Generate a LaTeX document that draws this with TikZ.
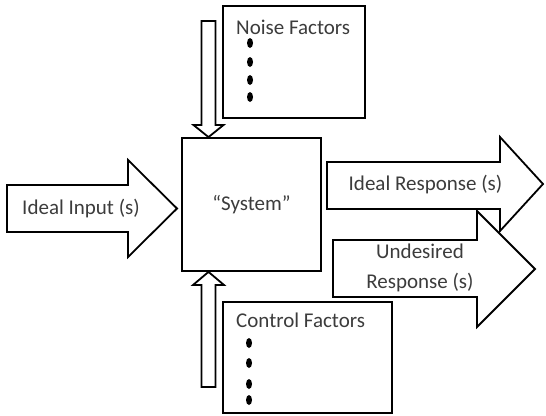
\documentclass[tikz,border=0pt]{standalone}
\usepackage{fontspec}
\setmainfont{Carlito}
\usetikzlibrary{calc,positioning}

\begin{document}
\begin{tikzpicture}[x=1pt,y=-1pt,
    blockline/.style={draw=black,line width=1.8pt,fill=white},
    txt/.style={text=textgray,font=\fontsize{21}{30}\selectfont,inner sep=0pt},
    bulletdot/.style={fill=black}]
    \definecolor{textgray}{RGB}{60,60,60}

    \useasboundingbox (0,0) rectangle (546,415);

    % boxes
    \node[blockline,minimum width=139pt,minimum height=133pt] (system) at (251.5,204.5) {};
    \node[blockline,minimum width=142pt,minimum height=112pt] (noise) at (294,62) {};
    \node[blockline,minimum width=169pt,minimum height=111pt] (control) at (307.5,357.5) {};

    \node[txt] (systemtext) at (system.center) {“System”};
    \node[txt,anchor=west] (noisetext) at (236,27) {Noise Factors};
    \node[txt,anchor=west] (controltext) at (236,320) {Control Factors};

    \fill [bulletdot] (250,43) ellipse [x radius=3pt, y radius=5pt];
    \fill [bulletdot] (250,62) ellipse [x radius=3pt, y radius=5pt];
    \fill [bulletdot] (250,80) ellipse [x radius=3pt, y radius=5pt];
    \fill [bulletdot] (250,97) ellipse [x radius=3pt, y radius=5pt];

    \fill [bulletdot] (249,343) ellipse [x radius=3pt, y radius=5pt];
    \fill [bulletdot] (249,363) ellipse [x radius=3pt, y radius=5pt];
    \fill [bulletdot] (249,384) ellipse [x radius=3pt, y radius=5pt];
    \fill [bulletdot] (249,400) ellipse [x radius=3pt, y radius=5pt];

    % thin arrows into the system
    \coordinate (noisetip) at (system.north west -| 208.5,0);
    \coordinate (controltip) at (system.south west -| 208.5,0);
    \draw [blockline] (201.5,21) -- (215.5,21) -- (215.5,125) -- (223.5,125)
      -- (noisetip) -- (193.5,125) -- (201.5,125) -- cycle;
    \draw [blockline] (201.5,387) -- (215.5,387) -- (215.5,285) -- (224,285)
      -- (controltip) -- (193,285) -- (201.5,285) -- cycle;

    % block arrows
    \draw [blockline] (7,185) -- (128,185) -- (128,160) -- (177,208.5)
      -- (128,257) -- (128,232) -- (7,232) -- cycle;
    \node[txt] (input) at (81,208.5) {Ideal Input (s)};

    \draw [blockline] (327,162) -- (500,162) -- (500,137) -- (543,184)
      -- (500,231) -- (500,209) -- (327,209) -- cycle;
    \node[txt] (ideal) at (425.5,185) {Ideal Response (s)};

    \draw [blockline] (333,240) -- (477,240) -- (477,211) -- (535,269)
      -- (477,327) -- (477,297) -- (333,297) -- cycle;
    \node[txt,align=center] (undesired) at (420,268) {Undesired\\Response (s)};
\end{tikzpicture}
\end{document}
